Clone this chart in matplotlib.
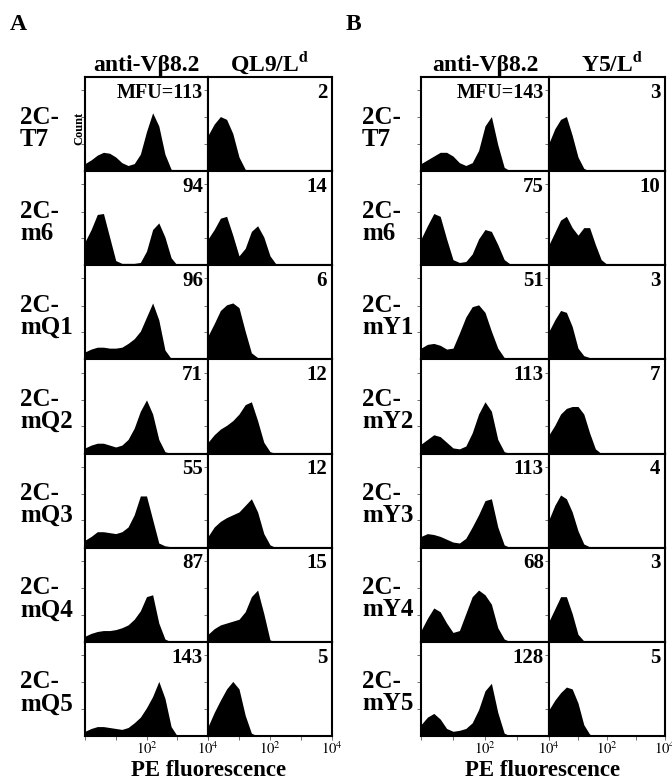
import numpy as np
import matplotlib
matplotlib.use("Agg")
import matplotlib.pyplot as plt

plt.rcParams['font.family'] = ['Liberation Serif', 'DejaVu Serif']
plt.rcParams['mathtext.fontset'] = 'stix'

# log10 fluorescence positions (0 -> 10^0, 4 -> 10^4)
decades = [0.0, 0.2, 0.4, 0.6, 0.8, 1.0, 1.2, 1.4, 1.6, 1.8, 2.0,
           2.2, 2.4, 2.6, 2.8, 3.0, 3.2, 3.4, 3.6, 3.8, 4.0]

rows_A = ["T7", "m6", "mQ1", "mQ2", "mQ3", "mQ4", "mQ5"]
rows_B = ["T7", "m6", "mY1", "mY2", "mY3", "mY4", "mY5"]

mfu_A_vb = [113, 94, 96, 71, 55, 87, 143]
mfu_A_ql9 = [2, 14, 6, 12, 12, 15, 5]
mfu_B_vb = [143, 75, 51, 113, 113, 68, 128]
mfu_B_y5 = [3, 10, 3, 7, 4, 3, 5]

# histogram heights (fraction of panel height), trailing zeros omitted
hist_A_vb = [
    [0.08, 0.12, 0.17, 0.20, 0.19, 0.15, 0.09, 0.06, 0.08, 0.18, 0.42, 0.62, 0.48, 0.18, 0.02],
    [0.25, 0.38, 0.54, 0.55, 0.30, 0.05, 0.02, 0.02, 0.02, 0.03, 0.15, 0.38, 0.45, 0.30, 0.08],
    [0.08, 0.11, 0.13, 0.13, 0.12, 0.12, 0.13, 0.17, 0.22, 0.30, 0.45, 0.60, 0.42, 0.10, 0.01],
    [0.06, 0.09, 0.11, 0.11, 0.09, 0.07, 0.09, 0.15, 0.27, 0.45, 0.57, 0.42, 0.15, 0.02],
    [0.08, 0.12, 0.17, 0.17, 0.16, 0.15, 0.17, 0.22, 0.35, 0.55, 0.55, 0.30, 0.05, 0.02, 0.01],
    [0.06, 0.09, 0.11, 0.12, 0.12, 0.13, 0.15, 0.18, 0.24, 0.33, 0.48, 0.50, 0.20, 0.03],
    [0.05, 0.08, 0.10, 0.10, 0.09, 0.08, 0.07, 0.09, 0.14, 0.20, 0.30, 0.42, 0.58, 0.40, 0.10],
]
hist_A_ql9 = [
    [0.38, 0.50, 0.58, 0.55, 0.40, 0.15, 0.02],
    [0.28, 0.38, 0.50, 0.52, 0.32, 0.10, 0.18, 0.36, 0.42, 0.30, 0.10, 0.01],
    [0.25, 0.38, 0.52, 0.58, 0.60, 0.55, 0.30, 0.07, 0.02],
    [0.12, 0.20, 0.26, 0.30, 0.35, 0.42, 0.52, 0.55, 0.35, 0.12, 0.02],
    [0.12, 0.22, 0.28, 0.32, 0.35, 0.38, 0.45, 0.52, 0.38, 0.15, 0.03],
    [0.08, 0.14, 0.18, 0.20, 0.22, 0.24, 0.32, 0.48, 0.55, 0.30, 0.02],
    [0.10, 0.25, 0.38, 0.50, 0.58, 0.50, 0.22, 0.03],
]
hist_B_vb = [
    [0.08, 0.12, 0.16, 0.20, 0.20, 0.16, 0.09, 0.06, 0.09, 0.22, 0.48, 0.58, 0.28, 0.04],
    [0.28, 0.42, 0.55, 0.52, 0.28, 0.06, 0.03, 0.04, 0.12, 0.28, 0.38, 0.36, 0.22, 0.06, 0.01],
    [0.12, 0.16, 0.17, 0.15, 0.11, 0.12, 0.28, 0.45, 0.56, 0.58, 0.50, 0.30, 0.12, 0.02],
    [0.10, 0.15, 0.20, 0.18, 0.12, 0.06, 0.05, 0.08, 0.22, 0.42, 0.55, 0.45, 0.15, 0.02],
    [0.12, 0.15, 0.14, 0.12, 0.09, 0.06, 0.05, 0.10, 0.22, 0.35, 0.50, 0.52, 0.22, 0.03],
    [0.12, 0.25, 0.36, 0.32, 0.20, 0.10, 0.12, 0.30, 0.48, 0.55, 0.50, 0.40, 0.15, 0.03],
    [0.12, 0.20, 0.24, 0.18, 0.08, 0.05, 0.06, 0.08, 0.14, 0.28, 0.48, 0.56, 0.25, 0.03],
]
hist_B_y5 = [
    [0.30, 0.45, 0.55, 0.58, 0.38, 0.15, 0.03],
    [0.22, 0.35, 0.48, 0.52, 0.40, 0.32, 0.40, 0.40, 0.22, 0.06, 0.01],
    [0.30, 0.42, 0.52, 0.50, 0.35, 0.12, 0.04, 0.02, 0.01, 0.01],
    [0.20, 0.30, 0.42, 0.48, 0.50, 0.50, 0.42, 0.22, 0.05],
    [0.30, 0.45, 0.56, 0.52, 0.38, 0.18, 0.04, 0.01],
    [0.22, 0.35, 0.48, 0.48, 0.30, 0.08, 0.01],
    [0.28, 0.38, 0.46, 0.52, 0.50, 0.35, 0.12, 0.02],
]

W, H = 672, 781
fig = plt.figure(figsize=(W / 100, H / 100), dpi=100)

top, bottom = 77, 736
row_h = (bottom - top) / 7


def add_px_axes(x0, y0, x1, y1):
    return fig.add_axes([x0 / W, 1 - y1 / H, (x1 - x0) / W, (y1 - y0) / H])


def ftext(x, y, s, **kw):
    return fig.text(x / W, 1 - y / H, s, fontweight='bold', **kw)


def draw_column(x0, x1, hists, mfus, first_label=False):
    xs = 10 ** np.array(decades)
    for i, (h, m) in enumerate(zip(hists, mfus)):
        ax = add_px_axes(x0, top + i * row_h, x1, top + (i + 1) * row_h)
        hh = np.zeros(len(decades))
        hh[:len(h)] = h
        ax.fill_between(xs, 0, hh, color='black', linewidth=0)
        ax.set_xscale('log')
        ax.set_xlim(1, 1e4)
        ax.set_ylim(0, 1)
        ax.set_xticks([1, 10, 100, 1000, 10000])
        ax.xaxis.set_minor_locator(matplotlib.ticker.NullLocator())
        ax.set_yticks([0.29, 0.57, 0.86])
        ax.set_yticklabels([])
        ax.tick_params(axis='both', length=3, width=0.6, color='0.35', direction='out')
        if i == 6:
            ax.set_xticklabels(['', '', r'$10^2$', '', r'$10^4$'], fontsize=10.5)
            ax.tick_params(axis='x', pad=0.5)
        else:
            ax.set_xticklabels([])
        for sp in ax.spines.values():
            sp.set_linewidth(1.5)
        label = f"MFU={m}" if (i == 0 and first_label) else str(m)
        ax.text(0.96, 0.94, label, transform=ax.transAxes, ha='right', va='top',
                fontsize=14.5 if label != str(m) else 15, fontweight='bold')


# panel A
xa = [85, 208, 332]
draw_column(xa[0], xa[1], hist_A_vb, mfu_A_vb, first_label=True)
draw_column(xa[1], xa[2], hist_A_ql9, mfu_A_ql9)
# panel B
xb = [421, 549, 665]
draw_column(xb[0], xb[1], hist_B_vb, mfu_B_vb, first_label=True)
draw_column(xb[1], xb[2], hist_B_y5, mfu_B_y5)

ftext(10, 30, "A", fontsize=17)
ftext(346, 30, "B", fontsize=17)

ftext((xa[0] + xa[1]) / 2, 71, "anti-V\u03b28.2", fontsize=17, ha='center')
ftext((xa[1] + xa[2]) / 2, 71, r"QL9/L$^{\mathbf{d}}$", fontsize=17, ha='center')
ftext((xb[0] + xb[1]) / 2, 71, "anti-V\u03b28.2", fontsize=17, ha='center')
ftext((xb[1] + xb[2]) / 2 + 5, 71, r"Y5/L$^{\mathbf{d}}$", fontsize=17, ha='center')

for i, (ra, rb) in enumerate(zip(rows_A, rows_B)):
    yc = top + (i + 0.5) * row_h + 4
    ftext(20, yc, "2C-\n" + ra, fontsize=18, va='center', ha='left', linespacing=0.95)
    ftext(362, yc, "2C-\n" + rb, fontsize=18, va='center', ha='left', linespacing=0.95)

ftext(79, top + 0.5 * row_h + 4, "Count", fontsize=9, rotation=90, ha='center', va='center')

ftext((xa[0] + xa[2]) / 2, 770, "PE fluorescence", fontsize=16.5, ha='center', va='center')
ftext((xb[0] + xb[2]) / 2, 770, "PE fluorescence", fontsize=16.5, ha='center', va='center')

fig.savefig("out.png", dpi=100)
